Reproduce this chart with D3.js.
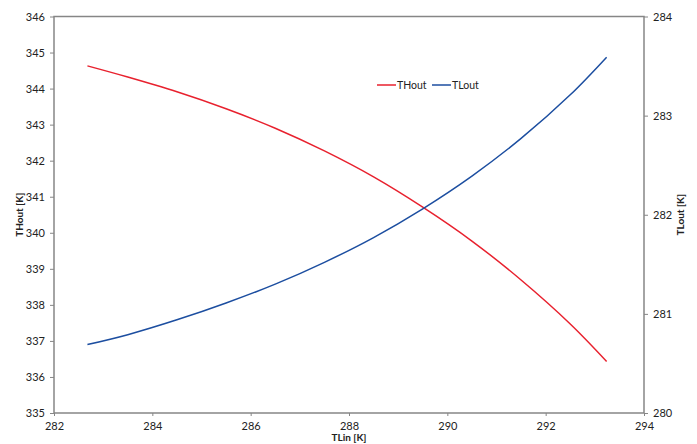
<!DOCTYPE html>
<html>
<head>
<meta charset="utf-8">
<script src="https://cdn.jsdelivr.net/npm/d3@7"></script>
<style>
  body { margin: 0; background: #fff; }
  text { font-family: Lato, "Open Sans", sans-serif; fill: #222; }
</style>
</head>
<body>
<div class="chart"></div>
<script>
// data
const tLin = [282.68, 283.5, 284.5, 285.5, 286.5, 287.5, 288.5, 289.5, 290.5, 291.5, 292.5, 293.24];
const tHout = [344.63, 344.32, 343.91, 343.44, 342.90, 342.27, 341.55, 340.71, 339.77, 338.69, 337.47, 336.43];
const tLout = [280.69, 280.79, 280.94, 281.11, 281.30, 281.52, 281.77, 282.06, 282.39, 282.77, 283.21, 283.59];
const xTicks = [282, 284, 286, 288, 290, 292, 294];
const leftTicks = [335, 336, 337, 338, 339, 340, 341, 342, 343, 344, 345, 346];
const rightTicks = [280, 281, 282, 283, 284];

const margin = { top: 16.5, right: 53, bottom: 31, left: 54 };
const W = 697, H = 444;
const width = W - margin.left - margin.right;
const height = H - margin.top - margin.bottom;

const svg = d3.select('.chart').append('svg')
  .attr('width', W).attr('height', H);
const g = svg.append('g')
  .attr('transform', 'translate(' + margin.left + ',' + margin.top + ')');

const x = d3.scaleLinear().domain([282, 294]).range([0, width]);
const yL = d3.scaleLinear().domain([335, 346]).range([height, 0]);
const yR = d3.scaleLinear().domain([280, 284]).range([height, 0]);

const axisColor = '#868686';

// frame
g.append('rect').attr('width', width).attr('height', height)
  .attr('fill', 'none').attr('stroke', axisColor).attr('stroke-width', 1.5);

function styleAxis(sel) {
  sel.select('.domain').remove();
  sel.selectAll('.tick line').attr('stroke', axisColor);
  sel.selectAll('.tick text').attr('font-size', 11).attr('fill', '#222')
    .attr('font-family', 'Lato, "Open Sans", sans-serif');
}

g.append('g').attr('transform', 'translate(0,' + height + ')')
  .call(d3.axisBottom(x).tickValues(xTicks).tickFormat(d3.format('d')).tickSize(3).tickPadding(6))
  .call(styleAxis);

g.append('g')
  .call(d3.axisLeft(yL).tickValues(leftTicks).tickFormat(d3.format('d')).tickSize(4).tickPadding(5))
  .call(styleAxis);

g.append('g').attr('transform', 'translate(' + width + ',0)')
  .call(d3.axisRight(yR).tickValues(rightTicks).tickFormat(d3.format('d')).tickSize(4).tickPadding(5))
  .call(styleAxis);

// lines
const pts = tLin.map((d, i) => ({ x: d, h: tHout[i], l: tLout[i] }));
const lineH = d3.line().x(d => x(d.x)).y(d => yL(d.h)).curve(d3.curveCatmullRom);
const lineL = d3.line().x(d => x(d.x)).y(d => yR(d.l)).curve(d3.curveCatmullRom);

g.append('path').datum(pts).attr('d', lineH)
  .attr('fill', 'none').attr('stroke', '#e8212e').attr('stroke-width', 1.5);
g.append('path').datum(pts).attr('d', lineL)
  .attr('fill', 'none').attr('stroke', '#1c4ea0').attr('stroke-width', 1.5);

// axis titles
svg.append('text').attr('x', margin.left + width / 2).attr('y', 441)
  .attr('text-anchor', 'middle').attr('font-size', 10).attr('font-weight', 'bold')
  .text('TLin [K]');
svg.append('text').attr('transform', 'translate(23,' + (margin.top + height / 2) + ') rotate(-90)')
  .attr('text-anchor', 'middle').attr('font-size', 10).attr('font-weight', 'bold')
  .text('THout [K]');
svg.append('text').attr('transform', 'translate(684,' + (margin.top + height / 2) + ') rotate(-90)')
  .attr('text-anchor', 'middle').attr('font-size', 10).attr('font-weight', 'bold')
  .text('TLout [K]');

// legend
const legend = svg.append('g').attr('transform', 'translate(377,85)');
const items = [
  { name: 'THout', color: '#e8212e', dx: 0 },
  { name: 'TLout', color: '#1c4ea0', dx: 55 }
];
items.forEach(it => {
  legend.append('line').attr('x1', it.dx).attr('x2', it.dx + 19)
    .attr('stroke', it.color).attr('stroke-width', 1.5);
  legend.append('text').attr('x', it.dx + 20).attr('y', 4)
    .attr('font-size', 10.5).text(it.name);
});
</script>
</body>
</html>
